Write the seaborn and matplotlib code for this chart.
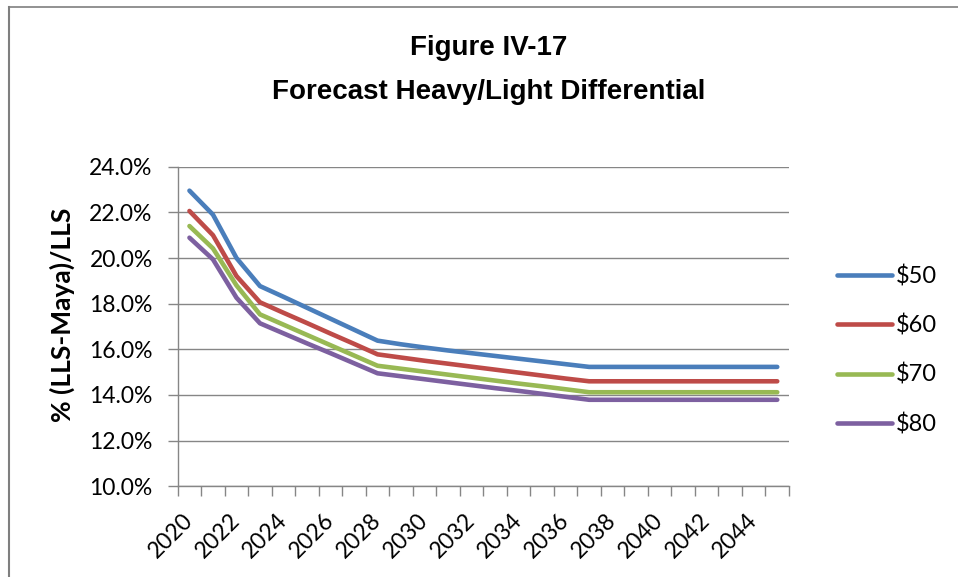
import matplotlib
matplotlib.use("Agg")
import matplotlib.pyplot as plt
import seaborn as sns
import pandas as pd
from matplotlib.lines import Line2D
from matplotlib.ticker import FixedLocator, PercentFormatter

years = list(range(2020, 2046))
series_names = ["$50", "$60", "$70", "$80"]
vals_50 = [22.95, 21.90, 20.00, 18.77, 18.30, 17.82, 17.34, 16.86, 16.38, 16.22, 16.08, 15.95, 15.83,
           15.71, 15.59, 15.47, 15.35, 15.23, 15.23, 15.23, 15.23, 15.23, 15.23, 15.23, 15.23, 15.23]
vals_60 = [22.06, 21.00, 19.21, 18.06, 17.60, 17.15, 16.69, 16.24, 15.78, 15.64, 15.50, 15.37, 15.24,
           15.11, 14.98, 14.85, 14.72, 14.60, 14.60, 14.60, 14.60, 14.60, 14.60, 14.60, 14.60, 14.60]
vals_70 = [21.40, 20.42, 18.80, 17.53, 17.08, 16.63, 16.18, 15.73, 15.28, 15.15, 15.02, 14.89, 14.76,
           14.63, 14.50, 14.38, 14.25, 14.12, 14.12, 14.12, 14.12, 14.12, 14.12, 14.12, 14.12, 14.12]
vals_80 = [20.89, 19.94, 18.26, 17.14, 16.70, 16.26, 15.83, 15.39, 14.95, 14.82, 14.69, 14.56, 14.43,
           14.30, 14.18, 14.05, 13.92, 13.79, 13.79, 13.79, 13.79, 13.79, 13.79, 13.79, 13.79, 13.79]
colors = ["#4A7EBB", "#BE4B48", "#98B954", "#7D60A0"]
yticks = [10, 12, 14, 16, 18, 20, 22, 24]

rows = []
for name, vals in zip(series_names, [vals_50, vals_60, vals_70, vals_80]):
    for i, (yr, v) in enumerate(zip(years, vals)):
        rows.append({"idx": i, "year": yr, "scenario": name, "value": v})
df = pd.DataFrame(rows)

W, H = 958, 577
fig = plt.figure(figsize=(W / 100, H / 100), dpi=100)
fig.patch.set_facecolor("white")

left, right, top, bottom = 177.7, 789.0, 166.7, 486.3
ax = fig.add_axes([left / W, 1 - bottom / H, (right - left) / W, (bottom - top) / H])

LW = 3.3
sns.lineplot(data=df, x="idx", y="value", hue="scenario", palette=colors,
             hue_order=series_names, linewidth=LW, ax=ax, legend=False)
for ln in ax.lines:
    ln.set_solid_capstyle("round")
    ln.set_solid_joinstyle("round")

gray = "#868686"
ax.set_xlim(-0.5, len(years) - 0.5)
ax.set_ylim(10, 24)
ax.set_yticks(yticks)
ax.yaxis.set_major_formatter(PercentFormatter(decimals=1))
ax.grid(axis="y", color=gray, linewidth=1.0)
ax.grid(axis="x", visible=False)
ax.set_axisbelow(True)
for s in ["top", "right"]:
    ax.spines[s].set_visible(False)
for s in ["left", "bottom"]:
    ax.spines[s].set_color(gray)
    ax.spines[s].set_linewidth(1.0)
ax.set_facecolor("white")

tick_font = "Lato"
TFS = 16.5
# major ticks at category boundaries, labels on even category centres
ax.xaxis.set_major_locator(FixedLocator([i - 0.5 for i in range(len(years) + 1)]))
ax.xaxis.set_major_formatter(plt.NullFormatter())
ax.tick_params(axis="x", which="major", length=7, width=1.0, color=gray, direction="out")
label_idx = [i for i, y in enumerate(years) if y % 2 == 0]
ax.set_xticks(label_idx, minor=True)
ax.set_xticklabels([str(years[i]) for i in label_idx], minor=True)
ax.tick_params(axis="x", which="minor", length=0, pad=22)
for lab in ax.get_xticklabels(minor=True):
    lab.set_rotation(45)
    lab.set_ha("right")
    lab.set_va("center")
    lab.set_rotation_mode("anchor")
    lab.set_fontfamily(tick_font)
    lab.set_fontsize(TFS)
ax.tick_params(axis="y", length=7, width=1.0, color=gray, pad=11)
for lab in ax.get_yticklabels():
    lab.set_fontfamily(tick_font)
    lab.set_fontsize(TFS)
ax.set_xlabel("")
ax.set_ylabel("% (LLS-Maya)/LLS", fontfamily=tick_font, fontweight="bold", fontsize=19)
ax.yaxis.set_label_coords(-(left - 75) / (right - left), (bottom - 315) / (bottom - top))

# titles
fig.text(489 / W, 1 - 55 / H, "Figure IV-17", ha="center", va="baseline",
         fontfamily="Liberation Sans", fontweight="bold", fontsize=20)
fig.text(489 / W, 1 - 99 / H, "Forecast Heavy/Light Differential", ha="center", va="baseline",
         fontfamily="Liberation Sans", fontweight="bold", fontsize=20)

# legend
handles = [Line2D([0], [0], color=c, lw=LW, solid_capstyle="round") for c in colors]
leg = fig.legend(handles, series_names, loc="upper left",
                 bbox_to_anchor=(836.7 / W, 1 - 265 / H), bbox_transform=fig.transFigure,
                 frameon=False, borderpad=0, borderaxespad=0, handlelength=2.33,
                 handletextpad=0.17, labelspacing=1.16,
                 prop={"family": tick_font, "size": 17})

# chart border (left and top visible)
fig.add_artist(Line2D([8.7 / W, 8.7 / W], [0, 1 - 6.5 / H], transform=fig.transFigure,
                      color="#7f7f7f", lw=1.5))
fig.add_artist(Line2D([8.7 / W, 1], [1 - 6.5 / H, 1 - 6.5 / H], transform=fig.transFigure,
                      color="#7f7f7f", lw=1.2))

fig.savefig("out.png", dpi=100, facecolor="white")
